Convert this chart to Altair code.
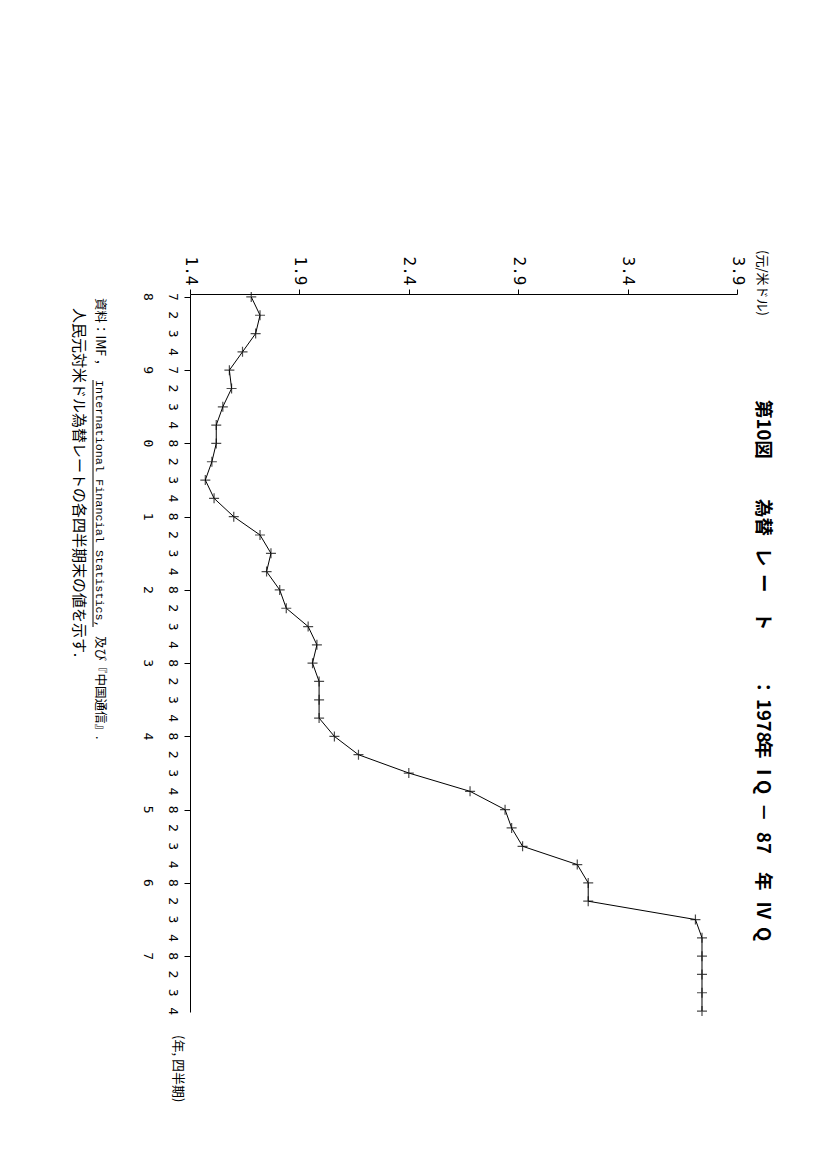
import altair as alt
import pandas as pd

# ---- data ----
quarter_index = list(range(40))  # 1978 Q1 ... 1987 Q4
rates = [
    1.68, 1.72, 1.70, 1.64,   # 1978
    1.58, 1.59, 1.55, 1.52,   # 1979
    1.52, 1.50, 1.47, 1.51,   # 1980
    1.60, 1.72, 1.77, 1.75,   # 1981
    1.81, 1.84, 1.94, 1.98,   # 1982
    1.96, 1.99, 1.99, 1.99,   # 1983
    2.06, 2.17, 2.40, 2.68,   # 1984
    2.84, 2.87, 2.92, 3.17,   # 1985
    3.22, 3.22, 3.71, 3.74,   # 1986
    3.74, 3.74, 3.74, 3.74,   # 1987
]
quarter_labels = ["7", "2", "3", "4", "7", "2", "3", "4"] + ["8", "2", "3", "4"] * 8
year_labels = ["8", "9", "0", "1", "2", "3", "4", "5", "6", "7"]
year_positions = [0, 4, 8, 12, 16, 20, 24, 28, 32, 36]
value_ticks = [1.4, 1.9, 2.4, 2.9, 3.4, 3.9]

# title pieces
title_parts = ["第10図", "為替", "レ", "ー", "ト", "：", "1978", "年", "Ⅰ", "Q", "－", "87", "年", "Ⅳ", "Q"]
unit_label = "(元/米ドル)"
x_title = "(年, 四半期)"
src_a = "資料：IMF ，"
src_b = "International Financial Statistics,"
src_c = "及び『中国通信』."
note = "人民元対米ドル為替レートの各四半期末の値を示す."

df = pd.DataFrame({"q": quarter_index, "rate": rates})
qlab_df = pd.DataFrame({"q": quarter_index, "label": quarter_labels})
years_df = pd.DataFrame({"q": year_positions, "label": year_labels})

W, H = 547, 718
MONO = "DejaVu Sans Mono"
CJK = "Noto Sans CJK JP"

x_scale = alt.Scale(domain=[1.4, 3.9], nice=False, zero=False)
y_scale = alt.Scale(domain=[-0.16, 39.05], nice=False, zero=False, reverse=True)

x_axis = alt.Axis(
    orient="top", values=value_ticks, format=".1f", labelAngle=90,
    labelAlign="right", labelBaseline="middle", labelPadding=4, tickSize=5,
    labelFont=MONO, labelFontSize=16, labelColor="black", domainColor="black",
    tickColor="black", grid=False, title=None, labelOverlap=False,
    labelFlush=False, labelBound=False,
)
y_axis = alt.Axis(
    values=quarter_index, labels=False, tickSize=6,
    domainColor="black", tickColor="black", grid=False, title=None,
)

base = alt.Chart(df)
line = base.mark_line(color="black", strokeWidth=1).encode(
    x=alt.X("rate:Q", scale=x_scale, axis=x_axis),
    y=alt.Y("q:Q", scale=y_scale, axis=y_axis),
    order="q:Q",
)
points = base.mark_point(
    shape="M-1,0L1,0M0,-1L0,1", filled=False, color="black", size=100, strokeWidth=1.2,
).encode(x=alt.X("rate:Q", scale=x_scale), y=alt.Y("q:Q", scale=y_scale))

qlabels = alt.Chart(qlab_df).mark_text(
    angle=90, align="center", baseline="middle", font=MONO, fontSize=13, color="black"
).encode(y=alt.Y("q:Q", scale=y_scale), x=alt.value(-17), text="label:N")

years = alt.Chart(years_df).mark_text(
    angle=90, align="center", baseline="middle", font=MONO, fontSize=13, color="black"
).encode(y=alt.Y("q:Q", scale=y_scale), x=alt.value(-42), text="label:N")


def rtext(txt, x, y, size, font=CJK, weight="normal"):
    return alt.Chart(pd.DataFrame({"t": [txt]})).mark_text(
        angle=90, align="left", baseline="middle", font=font, fontSize=size,
        color="black", fontWeight=weight,
    ).encode(text="t:N", x=alt.value(x), y=alt.value(y))


# start positions along the rotated title line, relative to the plot's top edge
title_starts = [106, 205, 254, 280, 318, 384, 405, 446, 469, 486, 509, 538, 578, 607, 633]
title_layers = [rtext(t, 573, s, 18.5, weight="bold") for t, s in zip(title_parts, title_starts)]

texts = title_layers + [
    rtext(unit_label, 572, -44, 13),
    rtext(x_title, -12, 741, 13),
    rtext(src_a, -90, 4, 12.5),
    rtext(src_b, -90, 86, 11.8, font="Liberation Mono"),
    rtext(src_c, -90, 342, 12.5),
    rtext(note, -111, 14, 15),
]
underline = alt.Chart(pd.DataFrame({"a": [0]})).mark_rule(color="black", strokeWidth=1).encode(
    x=alt.value(-97), y=alt.value(86), y2=alt.value(333)
)

chart = alt.layer(line, points, qlabels, years, underline, *texts).properties(
    width=W, height=H,
    background="white",
    autosize=alt.AutoSizeParams(type="none"),
    padding={"left": 182, "top": 286, "right": 82, "bottom": 120},
).configure_view(stroke=None)

chart.save("out.html", embed_options={"renderer": "svg", "actions": False})
